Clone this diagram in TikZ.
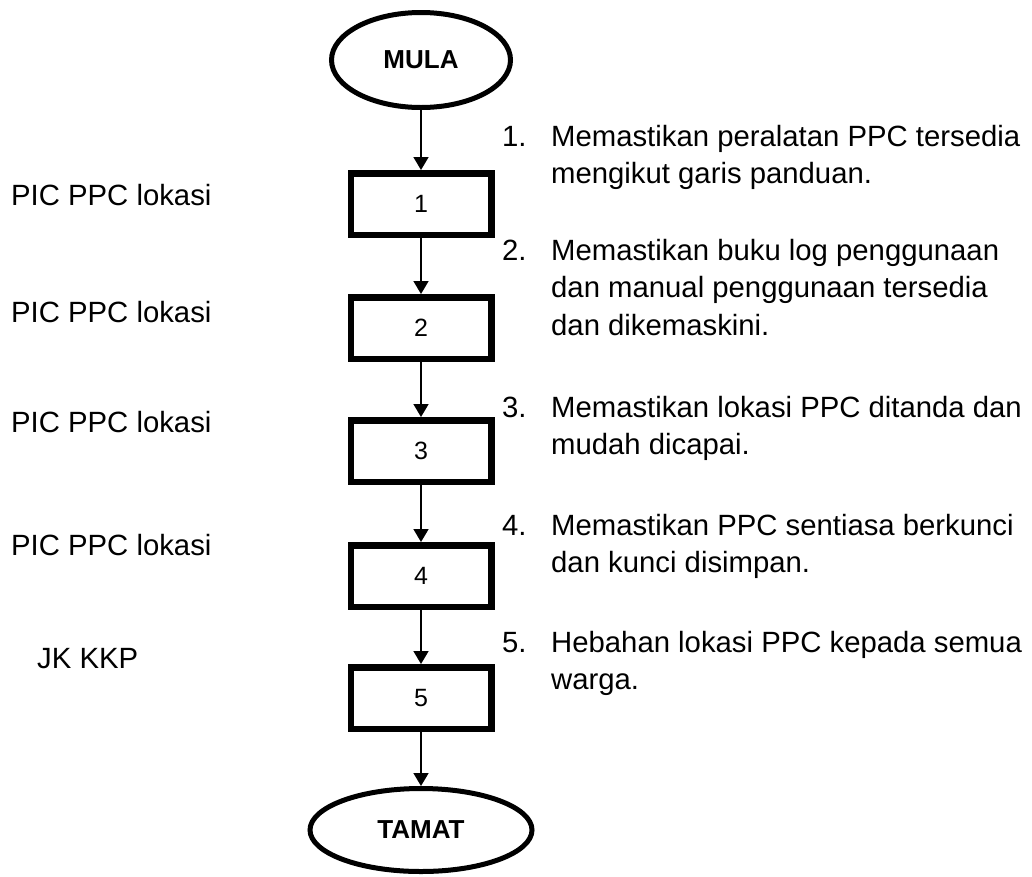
\documentclass[tikz,border=0pt]{standalone}
\usepackage{fontspec}
\setmainfont{Liberation Sans}
\usetikzlibrary{shapes.geometric,arrows.meta}

\tikzset{
  terminal/.style={ellipse, draw, line width=5pt, inner sep=0pt,
    font=\fontsize{26}{30}\selectfont\bfseries},
  stepbox/.style={rectangle, draw, line width=6.5pt, inner sep=0pt,
    minimum width=140.5pt, minimum height=61.5pt,
    font=\fontsize{25}{30}\selectfont},
  flow/.style={line width=1.7pt, -{Triangle[length=13pt,width=15pt]}},
  txt/.style={inner sep=0pt, anchor=base west,
    font=\fontsize{29.3}{37.5}\selectfont},
}

\begin{document}
\begin{tikzpicture}[x=1pt, y=-1pt]
  \useasboundingbox (0,0) rectangle (1032,876);
  % mula dan tamat
  \node[terminal, minimum width=179pt, minimum height=95pt] (mula) at (421,60) {MULA};
  \node[terminal, minimum width=222pt, minimum height=83pt] (tamat) at (421,830) {TAMAT};
  % langkah 1-5
  \foreach \i/\y in {1/204,2/328,3/451,4/576,5/698}
    \node[stepbox] (s\i) at (421,\y) {\i};
  \draw[flow] (mula.south) -- (s1.north);
  \foreach \i [count=\j from 2] in {1,...,4}
    \draw[flow] (s\i.south) -- (s\j.north);
  \draw[flow] (s5.south) -- (tamat.north);
  % tanggungjawab
  \foreach \i/\y in {1/205,2/322,3/432,4/555}
    \node[txt] (pic\i) at (11,\y) {PIC PPC lokasi};
  \node[txt] (jk) at (37,668) {JK KKP};
  % keterangan
  \node[txt] (d1) at (502,146) {\begin{tabular}[t]{@{}p{49pt}@{}l@{}}
    1. & Memastikan peralatan PPC tersedia\\ & mengikut garis panduan.\end{tabular}};
  \node[txt] (d2) at (502,260) {\begin{tabular}[t]{@{}p{49pt}@{}l@{}}
    2. & Memastikan buku log penggunaan\\ & dan manual penggunaan tersedia\\ & dan dikemaskini.\end{tabular}};
  \node[txt] (d3) at (502,417) {\begin{tabular}[t]{@{}p{49pt}@{}l@{}}
    3. & Memastikan lokasi PPC ditanda dan\\ & mudah dicapai.\end{tabular}};
  \node[txt] (d4) at (502,535) {\begin{tabular}[t]{@{}p{49pt}@{}l@{}}
    4. & Memastikan PPC sentiasa berkunci\\ & dan kunci disimpan.\end{tabular}};
  \node[txt] (d5) at (502,652) {\begin{tabular}[t]{@{}p{49pt}@{}l@{}}
    5. & Hebahan lokasi PPC kepada semua\\ & warga.\end{tabular}};
\end{tikzpicture}
\end{document}
